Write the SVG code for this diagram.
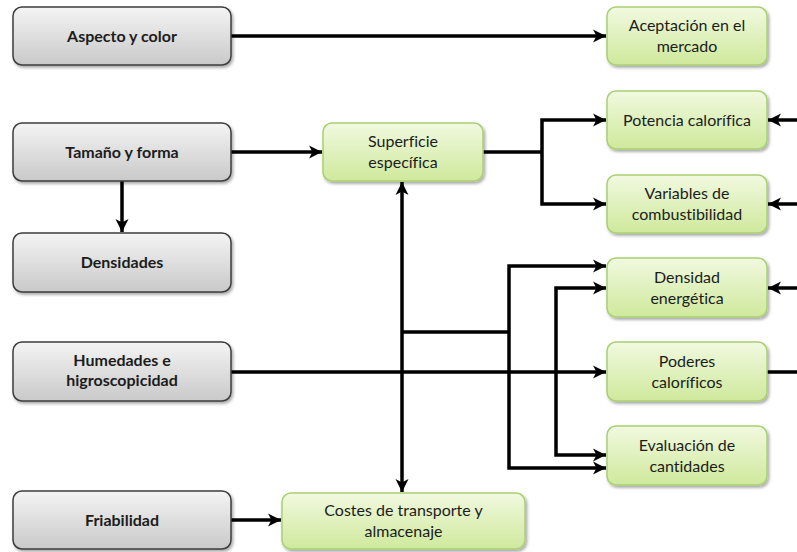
<svg xmlns="http://www.w3.org/2000/svg" width="797" height="552" viewBox="0 0 797 552">
  <defs>
    <linearGradient id="grayFill" x1="0" y1="0" x2="0" y2="1">
      <stop offset="0" stop-color="#f4f4f4"/>
      <stop offset="1" stop-color="#c9c9c9"/>
    </linearGradient>
    <linearGradient id="greenFill" x1="0" y1="0" x2="0" y2="1">
      <stop offset="0" stop-color="#f1f9e0"/>
      <stop offset="1" stop-color="#cfe99c"/>
    </linearGradient>
    <filter id="shadow" x="-10%" y="-20%" width="120%" height="150%">
      <feDropShadow dx="1.5" dy="2" stdDeviation="1.5" flood-color="#000" flood-opacity="0.35"/>
    </filter>
    <marker id="arrow" markerUnits="userSpaceOnUse" markerWidth="15" markerHeight="14" refX="13" refY="6.5" orient="auto-start-reverse" viewBox="0 0 15 13">
      <path d="M0,0 L13,6.5 L0,13 L3.5,6.5 Z" fill="#000"/>
    </marker>
  </defs>
  <style>
    .gray rect { fill: url(#grayFill); stroke: #3c3c3c; stroke-width: 1.5; filter: url(#shadow); }
    .green rect { fill: url(#greenFill); stroke: #a9cf72; stroke-width: 1.5; filter: url(#shadow); }
    text { font-family: "Lato", "Liberation Sans", sans-serif; font-size: 16px; fill: #1c1c1c; text-anchor: middle; font-variant-ligatures: none; }
    .gray text { font-weight: bold; }
    #connectors path { fill: none; stroke: #000; stroke-width: 3.5; }
    #connectors .arr { marker-end: url(#arrow); }
    #connectors .both { marker-start: url(#arrow); marker-end: url(#arrow); }
  </style>

  <rect width="797" height="552" fill="#fff"/>

  <!-- connectors -->
  <g id="connectors">
    <path class="arr" d="M231,36 H606"/>
    <path class="arr" d="M231,152 H322"/>
    <path class="arr" d="M122,181 V232"/>
    <path d="M483,152 H542"/>
    <path class="arr" d="M542,152 V120 H606"/>
    <path class="arr" d="M542,152 V204 H606"/>
    <path class="arr" d="M797,120 H768"/>
    <path class="arr" d="M797,204 H768"/>
    <path class="arr" d="M797,288 H768"/>
    <path d="M767,372 H797"/>
    <path class="both" d="M402,182 V492"/>
    <path d="M402,332 H509"/>
    <path class="both" d="M606,266 H509 V468 H606"/>
    <path class="both" d="M606,288 H556 V455 H606"/>
    <path class="arr" d="M231,372 H606"/>
    <path class="arr" d="M231,520 H281"/>
  </g>

  <!-- input properties -->
  <g id="aspecto" class="gray">
    <rect x="13" y="7" width="218" height="58" rx="9"/>
    <text x="122" y="41.5">Aspecto y color</text>
  </g>
  <g id="tamano" class="gray">
    <rect x="13" y="123" width="218" height="58" rx="9"/>
    <text x="122" y="157.5">Tamaño y forma</text>
  </g>
  <g id="densidades" class="gray">
    <rect x="13" y="233" width="218" height="59" rx="9"/>
    <text x="122" y="268">Densidades</text>
  </g>
  <g id="humedades" class="gray">
    <rect x="13" y="342" width="218" height="59" rx="9"/>
    <text x="122" y="366">Humedades e</text>
    <text x="122" y="386">higroscopicidad</text>
  </g>
  <g id="friabilidad" class="gray">
    <rect x="13" y="491" width="218" height="58" rx="9"/>
    <text x="122" y="525.5">Friabilidad</text>
  </g>

  <!-- derived effects -->
  <g id="superficie" class="green">
    <rect x="323" y="123" width="160" height="58" rx="9"/>
    <text x="403" y="147">Superficie</text>
    <text x="403" y="168">específica</text>
  </g>
  <g id="costes" class="green">
    <rect x="282" y="493" width="243" height="56" rx="9"/>
    <text x="403.5" y="516">Costes de transporte y</text>
    <text x="403.5" y="537">almacenaje</text>
  </g>
  <g id="aceptacion" class="green">
    <rect x="607" y="7" width="160" height="58" rx="9"/>
    <text x="687" y="31">Aceptación en el</text>
    <text x="687" y="52">mercado</text>
  </g>
  <g id="potencia" class="green">
    <rect x="607" y="91" width="160" height="58" rx="9"/>
    <text x="687" y="125.5">Potencia calorífica</text>
  </g>
  <g id="variables" class="green">
    <rect x="607" y="175" width="160" height="58" rx="9"/>
    <text x="687" y="199">Variables de</text>
    <text x="687" y="220">combustibilidad</text>
  </g>
  <g id="densidad-energetica" class="green">
    <rect x="607" y="258" width="160" height="59" rx="9"/>
    <text x="687" y="283">Densidad</text>
    <text x="687" y="304">energética</text>
  </g>
  <g id="poderes" class="green">
    <rect x="607" y="342" width="160" height="59" rx="9"/>
    <text x="687" y="367">Poderes</text>
    <text x="687" y="388">caloríficos</text>
  </g>
  <g id="evaluacion" class="green">
    <rect x="607" y="426" width="160" height="59" rx="9"/>
    <text x="687" y="451">Evaluación de</text>
    <text x="687" y="472">cantidades</text>
  </g>
</svg>
